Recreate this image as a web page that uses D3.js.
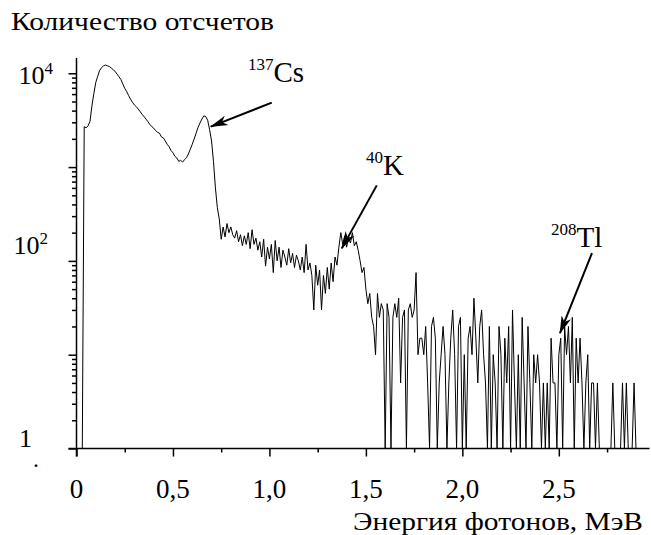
<!DOCTYPE html>
<html>
<head>
<meta charset="utf-8">
<script src="https://cdn.jsdelivr.net/npm/d3@7"></script>
<style>
  body { margin: 0; background: #fff; }
  svg text { fill: #000; }
</style>
</head>
<body>
<div id="chart"></div>
<script>
// calibracion del espectro: energia del primer canal y paso (MeV)
const energyStart = 0.03
const energyStep = 0.01

// cuentas por canal (0.03 ... 2.90 MeV)
const counts = [
  0,
  2700, 2620, 2750, 3080, 4500, 6100, 8000, 9300, 10700, 11500,
  12000, 12250, 12000, 11800, 11400, 10900, 10500, 9800, 9200, 8600,
  7700, 6900, 6400, 5800, 5300, 4900, 4600, 4400, 4150, 3900,
  3650, 3450, 3250, 3050, 2850, 2700, 2600, 2450, 2350, 2300,
  2100, 2050, 1900, 1750, 1650, 1500, 1420, 1300, 1250, 1150,
  1180, 1130, 1200, 1260, 1380, 1550, 1750, 2000, 2300, 2650,
  2950, 3250, 3520, 3450, 3150, 2500, 1900, 1150, 600, 370,
  280, 170,
  230, 180, 250, 200, 230, 190,
  175, 210, 160, 190, 145, 185, 150,
  200, 135, 215, 150, 175, 130, 160,
  110, 170, 88, 140, 105, 150, 75,
  165, 100, 140, 85, 130, 110, 90,
  135, 95, 120, 85, 115, 100, 80,
  110, 75, 150, 80, 95, 70,
  30, 90, 55, 80, 30, 70, 45, 85, 50, 95, 60,
  110, 90, 140,
  200, 150, 185, 140, 175, 155, 200, 145,
  160, 130, 100, 75, 85, 50, 35, 45, 25, 20, 10, 45, 25, 35, 30, 0,
  35, 25, 0, 25, 35, 25, 40, 5, 25, 30, 0, 30, 35, 25, 30, 75, 10, 15,
  15, 10, 20, 5, 0, 20, 25, 15, 0, 5,
  10, 20, 10, 0, 5, 15, 30, 10, 0, 20,
  25, 0, 10, 0, 15, 20, 10, 40, 15, 5,
  20, 30, 10, 5, 0, 20, 0, 10, 5, 0,
  20, 10, 0, 15, 5, 20, 0, 30, 5, 0,
  10, 0, 25, 5, 0, 20, 5, 0, 10, 5,
  10, 5, 0, 5, 0, 5, 0, 15, 5, 5,
  0, 10, 15, 0, 20, 10, 20, 5, 25, 0,
  15, 5, 15, 5, 0, 5, 10, 0, 5, 5,
  0, 5, 0, 0, 0, 0, 0, 0, 0, 5,
  0, 0, 0, 0, 5, 0, 5, 0, 0, 0,
  5, 0
]

const xMajorTicks = [0, 0.5, 1, 1.5, 2, 2.5]
const xTickLabels = ["0", "0,5", "1,0", "1,5", "2,0", "2,5"]
const xMinorTicks = [0.25, 0.75, 1.25, 1.75, 2.25, 2.75]

const yMajorTicks = [1, 10, 100, 1000, 10000]
const yLabelValues = [10000, 100, 1]
const yLabelBase = ["10", "10", "1"]
const yLabelExp = ["4", "2", ""]

// picos marcados con flecha
const peakMass = ["137", "40", "208"]
const peakName = ["Cs", "K", "Tl"]
const arrowTipE = [0.696, 1.375, 2.506]
const arrowTipCount = [2700, 136, 17]

const width = 651, height = 535

const svg = d3.select("#chart").append("svg")
  .attr("width", width)
  .attr("height", height)
  .attr("font-family", "'Liberation Serif', 'Times New Roman', 'DejaVu Serif', serif")

const x = d3.scaleLinear().domain([0, 2.97]).range([76.5, 649.5])
const y = d3.scaleLog().domain([1, 14550]).range([448.5, 58])

// ticks menores del eje log
let yMinorTicks = []
yMajorTicks.slice(0, -1).forEach(d => {
  for (let k = 2; k <= 9; k++) yMinorTicks.push(d * k)
})

const axisStyle = g => {
  g.select(".domain").remove()
  g.selectAll("line").attr("stroke", "#000").attr("stroke-width", 1.5)
}

svg.append("g")
  .attr("transform", "translate(" + x(0) + ",0)")
  .call(d3.axisLeft(y).tickValues(yMajorTicks).tickSize(8).tickFormat(""))
  .call(axisStyle)
svg.append("g")
  .attr("transform", "translate(" + x(0) + ",0)")
  .call(d3.axisLeft(y).tickValues(yMinorTicks).tickSize(4.5).tickFormat(""))
  .call(axisStyle)

svg.append("g")
  .attr("transform", "translate(0," + y(1) + ")")
  .call(d3.axisBottom(x).tickValues(xMajorTicks).tickSize(8).tickFormat(""))
  .call(axisStyle)
svg.append("g")
  .attr("transform", "translate(0," + y(1) + ")")
  .call(d3.axisBottom(x).tickValues(xMinorTicks).tickSize(4).tickFormat(""))
  .call(axisStyle)

// lineas de los ejes
svg.append("line")
  .attr("x1", x(0)).attr("x2", x(0))
  .attr("y1", y.range()[1]).attr("y2", y(1) + 8)
  .attr("stroke", "#000").attr("stroke-width", 1.5)
svg.append("line")
  .attr("x1", x(0) - 8).attr("x2", x.range()[1])
  .attr("y1", y(1)).attr("y2", y(1))
  .attr("stroke", "#000").attr("stroke-width", 1.5)

// espectro
const line = d3.line()
  .x((d, i) => x(energyStart + i * energyStep))
  .y(d => y(Math.max(d, 1)))

svg.append("path")
  .datum(counts)
  .attr("d", line)
  .attr("fill", "none")
  .attr("stroke", "#000")
  .attr("stroke-width", 1)
  .attr("stroke-linejoin", "miter")

// etiquetas eje x
xMajorTicks.forEach((d, i) => {
  svg.append("text")
    .attr("x", x(d))
    .attr("y", 498)
    .attr("text-anchor", "middle")
    .attr("font-size", 27)
    .text(xTickLabels[i])
})

// etiquetas eje y
const yLabelEnd = [53, 48, 32]
const yLabelBaseY = [84, 254, 447]
yLabelValues.forEach((d, i) => {
  let t = svg.append("text")
    .attr("x", yLabelEnd[i])
    .attr("y", yLabelBaseY[i])
    .attr("text-anchor", "end")
    .attr("font-size", 26)
  t.append("tspan").text(yLabelBase[i])
  if (yLabelExp[i] != "") {
    t.append("tspan").attr("font-size", 17).attr("dy", -10).text(yLabelExp[i])
  }
})
svg.append("text").attr("x", 36).attr("y", 467).attr("font-size", 24)
  .attr("text-anchor", "middle").text(".")

svg.append("text")
  .attr("x", 11).attr("y", 30)
  .attr("font-size", 25)
  .attr("textLength", 263)
  .attr("lengthAdjust", "spacingAndGlyphs")
  .text("Количество отсчетов")

svg.append("text")
  .attr("x", 353).attr("y", 530)
  .attr("font-size", 25)
  .attr("textLength", 290)
  .attr("lengthAdjust", "spacingAndGlyphs")
  .text("Энергия фотонов, МэВ")

// flechas
svg.append("defs").append("marker")
  .attr("id", "flecha")
  .attr("viewBox", "0 -6 18 12")
  .attr("markerUnits", "userSpaceOnUse")
  .attr("markerWidth", 18).attr("markerHeight", 12)
  .attr("refX", 17).attr("refY", 0)
  .attr("orient", "auto")
  .append("path")
  .attr("d", "M0,-5L18,0L0,5L5,0Z")
  .attr("fill", "#000")

const arrowTail = [[61, -24], [35, -63], [32, -80]]
const labelPos = [[248, 82], [366, 175], [551, 247]]

peakName.forEach((d, i) => {
  let tx = x(arrowTipE[i]), ty = y(arrowTipCount[i])
  svg.append("line")
    .attr("x1", tx + arrowTail[i][0]).attr("y1", ty + arrowTail[i][1])
    .attr("x2", tx).attr("y2", ty)
    .attr("stroke", "#000").attr("stroke-width", 2)
    .attr("marker-end", "url(#flecha)")
  let t = svg.append("text")
    .attr("x", labelPos[i][0]).attr("y", labelPos[i][1])
  t.append("tspan").attr("font-size", 17).attr("dy", -12).text(peakMass[i])
  t.append("tspan").attr("font-size", 29).attr("dy", 12).text(d)
})
</script>
</body>
</html>
